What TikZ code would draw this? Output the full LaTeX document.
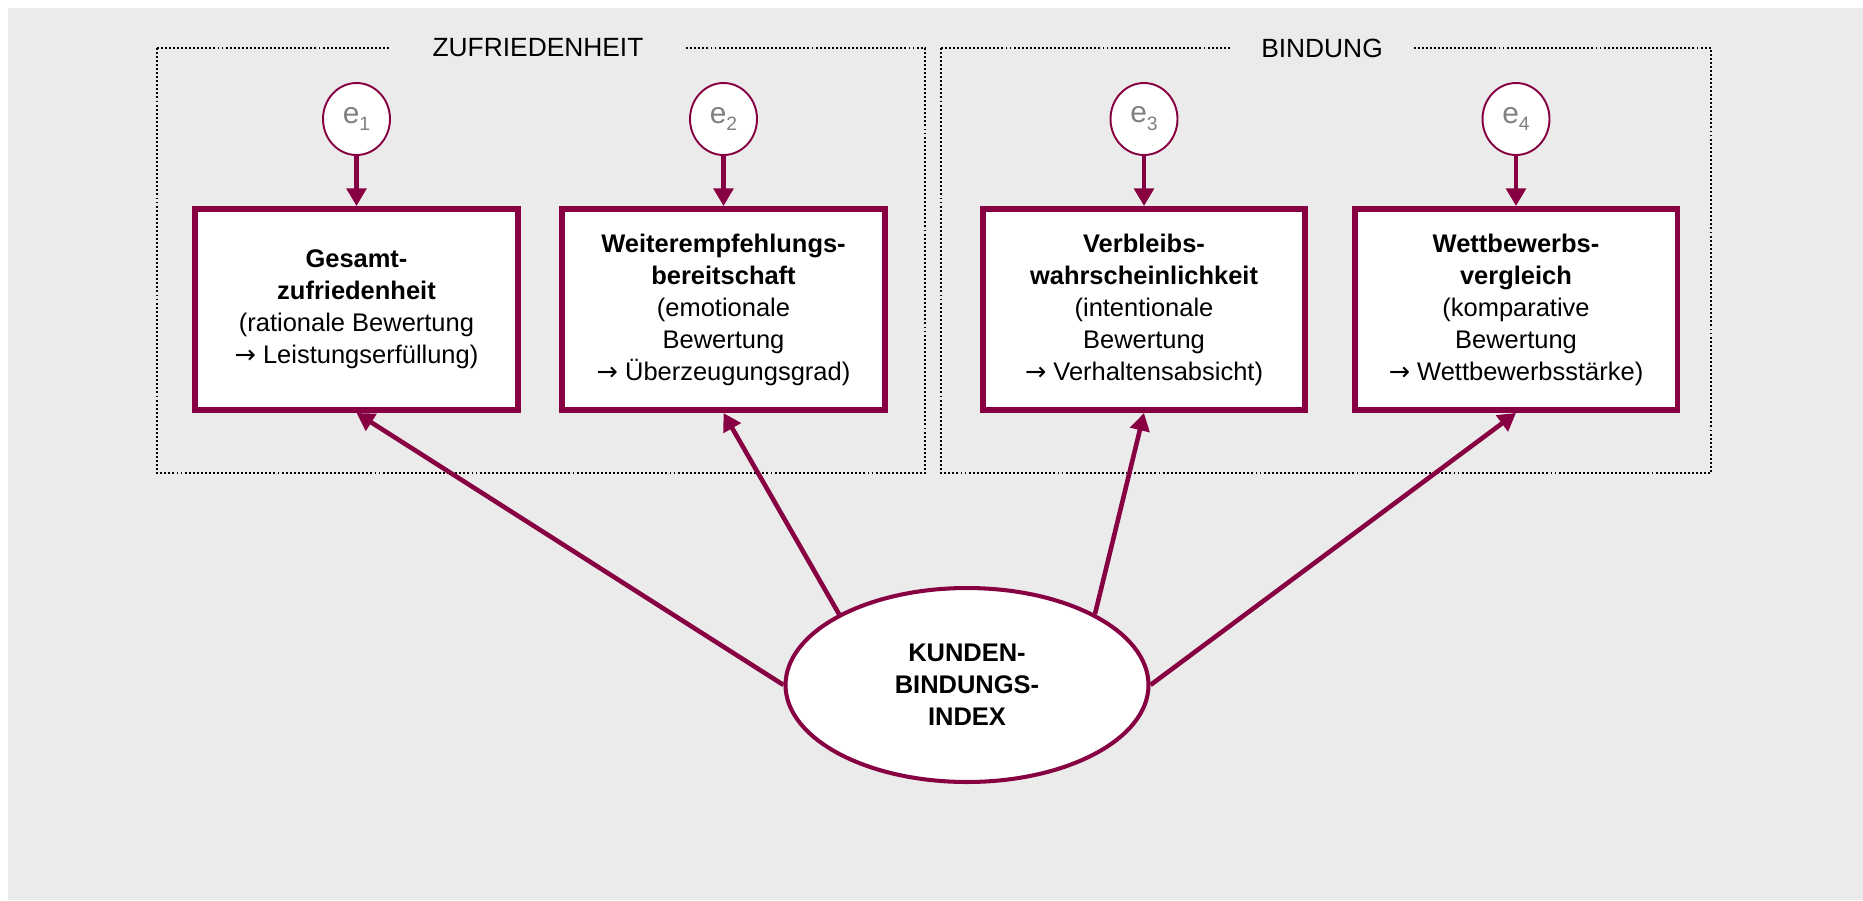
\documentclass[tikz,border=0pt]{standalone}
\usepackage{fontspec}
\setmainfont{Liberation Sans}
\newfontfamily\pfeilfont{DejaVu Sans}
\usetikzlibrary{arrows.meta,shapes.geometric}
\definecolor{kbirot}{HTML}{870042}
\definecolor{bggrau}{HTML}{EBEBEB}
\newcommand{\folgt}{{\pfeilfont →}}
\newcommand{\fehlerlabel}[1]{e\raisebox{-4.5pt}{\fontsize{11}{11}\selectfont #1}}

\begin{document}
\begin{tikzpicture}[x=0.02cm, y=-0.02cm, >={Triangle[length=10pt,width=11pt]},
  merkmal/.style={draw=kbirot, line width=3.4pt, fill=white, minimum width=6.46cm, minimum height=4.02cm, align=center, font=\fontsize{14.5}{18.2}\selectfont},
  fehler/.style={ellipse, draw=kbirot, line width=1.1pt, fill=white, minimum width=1.34cm, minimum height=1.44cm, inner sep=0pt, text=gray, font=\fontsize{17}{18}\selectfont},
  index/.style={ellipse, draw=kbirot, line width=2.3pt, fill=white, minimum width=7.26cm, minimum height=3.88cm, align=center, font=\fontsize{14.5}{18.2}\selectfont\bfseries},
  rahmen/.style={draw, line width=1.1pt, dash pattern=on 1.1pt off 1.2pt},
  titel/.style={fill=bggrau, inner sep=0pt, minimum height=0.6cm, font=\fontsize{15}{18}\selectfont},
  pfeil/.style={->, draw=kbirot, line width=2.6pt}]
\useasboundingbox (0,0) rectangle (1863,900);
\fill[white] (0,0) rectangle (1863,900);
\fill[bggrau] (8,8) rectangle (1863,900);

% Rahmen
\draw[rahmen] (157,48) rectangle (925,473);
\draw[rahmen] (941,48) rectangle (1711,473);
\node[titel, minimum width=5.9cm] (tzuf) at (538,48) {ZUFRIEDENHEIT};
\node[titel, minimum width=3.7cm] (tbind) at (1322,48) {BINDUNG};

% Indikatoren
\node[merkmal] (gesamt) at (356.5,309.5) {\textbf{Gesamt-}\\\textbf{zufriedenheit}\\(rationale Bewertung\\\folgt{} Leistungserfüllung)};
\node[merkmal] (empf) at (723.5,309.5) {\textbf{Weiterempfehlungs-}\\\textbf{bereitschaft}\\(emotionale\\Bewertung\\\folgt{} Überzeugungsgrad)};
\node[merkmal] (verbleib) at (1144,309.5) {\textbf{Verbleibs-}\\\textbf{wahrscheinlichkeit}\\(intentionale\\Bewertung\\\folgt{} Verhaltensabsicht)};
\node[merkmal] (wettb) at (1516,309.5) {\textbf{Wettbewerbs-}\\\textbf{vergleich}\\(komparative\\Bewertung\\\folgt{} Wettbewerbsstärke)};

% Fehlerterme
\node[fehler] (e1) at (356.5,119) {\fehlerlabel{1}};
\node[fehler] (e2) at (723.5,119) {\fehlerlabel{2}};
\node[fehler] (e3) at (1144,119) {\fehlerlabel{3}};
\node[fehler] (e4) at (1516,119) {\fehlerlabel{4}};

\node[index] (kbi) at (967,685) {KUNDEN-\\BINDUNGS-\\INDEX};

\draw[pfeil] (e1) -- (gesamt);
\draw[pfeil] (e2) -- (empf);
\draw[pfeil] (e3) -- (verbleib);
\draw[pfeil] (e4) -- (wettb);

\draw[pfeil] (kbi.west) -- (gesamt.south);
\draw[pfeil] (kbi.151) -- (empf.south);
\draw[pfeil] (kbi.29) -- (verbleib.south);
\draw[pfeil] (kbi.east) -- (wettb.south);
\end{tikzpicture}
\end{document}
